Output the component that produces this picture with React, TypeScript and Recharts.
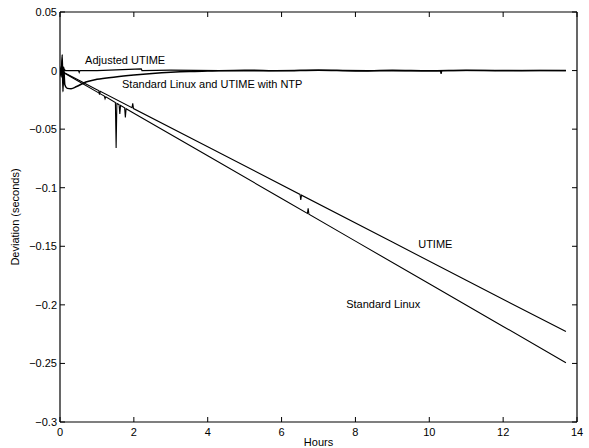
import React from "react";
import {
  LineChart,
  Line,
  XAxis,
  YAxis,
  ReferenceDot,
} from "recharts";

// Hours / deviation (s).
const standardLinuxHours = [0, 0.5, 1, 1.2, 1.22, 1.24, 1.5, 1.52, 1.54, 1.6, 1.62, 1.64, 1.75, 1.77, 1.79, 2, 4, 6, 6.7, 6.72, 6.74, 8, 10, 12, 13.7];
const standardLinuxDev = [0, -0.0091, -0.0182, -0.0218, -0.024, -0.0223, -0.0273, -0.066, -0.0281, -0.0291, -0.037, -0.0298, -0.0318, -0.04, -0.0326, -0.0364, -0.0728, -0.1092, -0.1219, -0.1175, -0.1226, -0.1456, -0.182, -0.2184, -0.2495];

const utimeHours = [0, 0.5, 1, 1.05, 1.07, 1.09, 1.95, 1.97, 1.99, 4, 6.5, 6.52, 6.54, 9, 11, 13.7];
const utimeDev = [0, -0.0081, -0.0163, -0.0171, -0.0205, -0.0177, -0.0317, -0.028, -0.0324, -0.0651, -0.1057, -0.1105, -0.1064, -0.1464, -0.179, -0.2228];

const ntpHours = [0, 0.03, 0.06, 0.08, 0.1, 0.13, 0.2, 0.3, 0.45, 0.7, 1, 1.5, 2, 2.5, 3, 3.5, 4, 5, 6, 7, 8, 9, 10, 11, 12, 13, 13.7];
const ntpDev = [0, -0.005, 0.0135, -0.018, 0.003, -0.012, -0.0152, -0.0155, -0.0136, -0.0098, -0.0075, -0.0054, -0.0038, -0.0025, -0.0015, -0.0008, -0.0004, 0.0003, -0.0002, 0.0003, -0.0003, 0.0002, -0.0002, 0.0002, -0.0001, 0, 0];

const adjustedHours = [0, 0.04, 0.06, 0.09, 0.15, 0.5, 0.52, 0.54, 1, 2.2, 2.22, 3, 5, 7, 9, 10.3, 10.32, 10.34, 12, 13.7];
const adjustedDev = [0, 0.004, -0.006, 0.002, 0, 0, -0.0015, 0, 0, 0.0015, 0, 0.0003, -0.0003, 0.0003, -0.0003, -0.0003, -0.0028, 0, 0.0002, 0];

const xTicks = [0, 2, 4, 6, 8, 10, 12, 14];
const yTicks = [0.05, 0, -0.05, -0.1, -0.15, -0.2, -0.25, -0.3];

const toPoints = (hours: number[], dev: number[]) =>
  hours.map((h, i) => ({ h, d: dev[i] }));

const FONT = "'Liberation Sans', Arial, Helvetica, sans-serif";
const AXIS = { stroke: "#000", strokeWidth: 1.2 };

function fmtY(v: number) {
  const s = String(Math.abs(v));
  return v < 0 ? `\u2212${s}` : s;
}

function BottomTick(props: any) {
  const { x, y, payload } = props;
  return (
    <g>
      <line x1={x} x2={x} y1={y} y2={y - 5} stroke="#000" />
      <text x={x} y={y + 14} textAnchor="middle" fontSize={11} fontFamily={FONT} fill="#000">
        {payload.value}
      </text>
    </g>
  );
}

function TopTick(props: any) {
  const { x, y } = props;
  return <line x1={x} x2={x} y1={y} y2={y + 5} stroke="#000" />;
}

function LeftTick(props: any) {
  const { x, y, payload } = props;
  return (
    <g>
      <line x1={x} x2={x + 5} y1={y} y2={y} stroke="#000" />
      <text x={x - 3} y={y + 4} textAnchor="end" fontSize={11} fontFamily={FONT} fill="#000">
        {fmtY(payload.value)}
      </text>
    </g>
  );
}

function RightTick(props: any) {
  const { x, y } = props;
  return <line x1={x} x2={x - 5} y1={y} y2={y} stroke="#000" />;
}

function textAt(label: string) {
  return (p: any) => (
    <text x={p.cx} y={p.cy} fontSize={11} fontFamily={FONT} fill="#000">
      {label}
    </text>
  );
}

export default function App() {
  return (
    <div style={{ position: "absolute", left: 0, top: 0, width: 589, height: 448, background: "#fff" }}>
      <LineChart width={589} height={448} margin={{ top: 10, right: 10, bottom: 0, left: 12 }}>
        <XAxis
          xAxisId="bottom"
          orientation="bottom"
          dataKey="h"
          type="number"
          domain={[0, 14]}
          ticks={xTicks}
          allowDataOverflow
          height={26}
          tickSize={0}
          tickMargin={0}
          tick={<BottomTick />}
          axisLine={AXIS}
          label={{
            content: ({ viewBox }: any) => (
              <text
                x={viewBox.x + viewBox.width / 2}
                y={viewBox.y + 24}
                textAnchor="middle"
                fontSize={11}
                fontFamily={FONT}
                fill="#000"
              >
                Hours
              </text>
            ),
          }}
        />
        <XAxis
          xAxisId="top"
          orientation="top"
          dataKey="h"
          type="number"
          domain={[0, 14]}
          ticks={xTicks}
          allowDataOverflow
          height={2}
          tickSize={0}
          tickMargin={0}
          tick={<TopTick />}
          axisLine={AXIS}
        />
        <YAxis
          yAxisId="left"
          orientation="left"
          type="number"
          domain={[-0.3, 0.05]}
          ticks={yTicks}
          allowDataOverflow
          width={48}
          tickSize={0}
          tickMargin={0}
          tick={<LeftTick />}
          axisLine={AXIS}
          label={{
            content: ({ viewBox }: any) => {
              const cx = viewBox.x + 7;
              const cy = viewBox.y + viewBox.height / 2;
              return (
                <text
                  x={cx}
                  y={cy}
                  transform={`rotate(-90 ${cx} ${cy})`}
                  textAnchor="middle"
                  fontSize={11}
                  fontFamily={FONT}
                  fill="#000"
                >
                  Deviation (seconds)
                </text>
              );
            },
          }}
        />
        <YAxis
          yAxisId="right"
          orientation="right"
          type="number"
          domain={[-0.3, 0.05]}
          ticks={yTicks}
          allowDataOverflow
          width={2}
          tickSize={0}
          tickMargin={0}
          tick={<RightTick />}
          axisLine={AXIS}
        />

        <Line
          xAxisId="bottom"
          yAxisId="left"
          data={toPoints(standardLinuxHours, standardLinuxDev)}
          dataKey="d"
          type="linear"
          stroke="#000"
          strokeWidth={1.1}
          dot={false}
          isAnimationActive={false}
        />
        <Line
          xAxisId="bottom"
          yAxisId="left"
          data={toPoints(utimeHours, utimeDev)}
          dataKey="d"
          type="linear"
          stroke="#000"
          strokeWidth={1.1}
          dot={false}
          isAnimationActive={false}
        />
        <Line
          xAxisId="bottom"
          yAxisId="left"
          data={toPoints(ntpHours, ntpDev)}
          dataKey="d"
          type="monotone"
          stroke="#000"
          strokeWidth={1.5}
          dot={false}
          isAnimationActive={false}
        />
        <Line
          xAxisId="bottom"
          yAxisId="left"
          data={toPoints(adjustedHours, adjustedDev)}
          dataKey="d"
          type="linear"
          stroke="#000"
          strokeWidth={1.2}
          dot={false}
          isAnimationActive={false}
        />
        {/* invisible twin so the top/right box axes get drawn */}
        <Line
          xAxisId="top"
          yAxisId="right"
          data={toPoints(adjustedHours, adjustedDev)}
          dataKey="d"
          stroke="none"
          dot={false}
          activeDot={false}
          isAnimationActive={false}
        />

        <ReferenceDot xAxisId="bottom" yAxisId="left" x={0.68} y={0.0052} r={0} shape={textAt("Adjusted UTIME")} />
        <ReferenceDot xAxisId="bottom" yAxisId="left" x={1.68} y={-0.0152} r={0} shape={textAt("Standard Linux and UTIME with NTP")} />
        <ReferenceDot xAxisId="bottom" yAxisId="left" x={9.7} y={-0.1515} r={0} shape={textAt("UTIME")} />
        <ReferenceDot xAxisId="bottom" yAxisId="left" x={7.75} y={-0.2025} r={0} shape={textAt("Standard Linux")} />
      </LineChart>
    </div>
  );
}
